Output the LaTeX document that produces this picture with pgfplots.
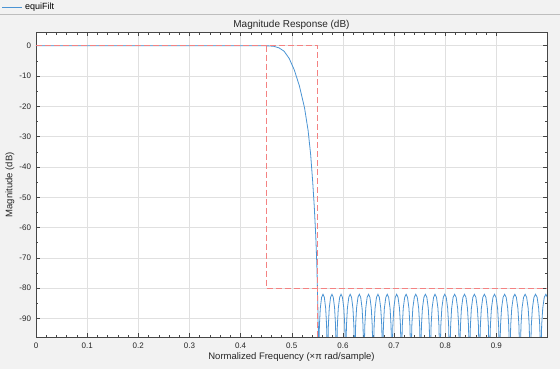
\documentclass[border=0pt]{standalone}
\usepackage{fontspec}
\setmainfont{Liberation Sans}
\usepackage{pgfplots}
\pgfplotsset{compat=1.18}
\definecolor{bg}{RGB}{242,242,242}
\definecolor{axcol}{RGB}{38,38,38}
\definecolor{boxcol}{RGB}{70,70,70}
\definecolor{gridc}{RGB}{224,224,224}
\definecolor{resp}{RGB}{75,148,212}
\definecolor{maskc}{RGB}{244,130,130}
\definecolor{sep}{RGB}{190,190,190}
\begin{document}
\begin{tikzpicture}
\fill[bg] (-36pt,-32pt) rectangle (524pt,337pt);
\draw[sep, line width=0.8pt] (-36pt,322.3pt) -- (524pt,322.3pt);
\draw[resp, line width=0.8pt] (-34pt,329.7pt) -- (-14pt,329.7pt);
\node[anchor=west, inner sep=0pt, font=\fontsize{9}{10}\selectfont, text=black] at (-11pt,329.7pt) {equiFilt};
\begin{axis}[
  at={(0pt,0pt)}, anchor=south west,
  scale only axis, width=511pt, height=304.3pt,
  xmin=0, xmax=0.999, ymin=-96.1, ymax=4.3,
  axis background/.style={fill=white},
  xtick={0,0.1,0.2,0.3,0.4,0.5,0.6,0.7,0.8,0.9},
  xticklabels={0,0.1,0.2,0.3,0.4,0.5,0.6,0.7,0.8,0.9},
  ytick={-90,-80,-70,-60,-50,-40,-30,-20,-10,0},
  yticklabels={-90,-80,-70,-60,-50,-40,-30,-20,-10,0},
  minor x tick num=4, minor y tick num=1,
  grid=major, major grid style={gridc, line width=0.5pt},
  axis line style={boxcol, line width=0.8pt},
  tick style={boxcol, line width=0.5pt},
  major tick length=3.5pt, minor tick length=2pt,
  tick label style={font=\fontsize{8}{9}\selectfont, text=axcol},
  xticklabel style={yshift=-2.5pt},
  yticklabel style={xshift=-1.5pt},
  every axis title shift=0pt,
  title={Magnitude Response (dB)},
  title style={at={(0.5,1.0171)}, anchor=base, font=\fontsize{10}{12}\selectfont, text=axcol},
  xlabel={Normalized Frequency (×π rad/sample)},
  ylabel={Magnitude (dB)},
  xlabel style={at={(0.5,-0.0657)}, anchor=center, font=\fontsize{9.5}{11}\selectfont, text=axcol},
  ylabel style={at={(-0.0509,0.5)}, anchor=center, font=\fontsize{9.5}{11}\selectfont, text=axcol},
  clip=true,
]
\addplot[resp, line width=0.8pt] coordinates {
(0,0)(0.44,0)(0.455,-0.05)(0.465,-0.2)(0.475,-0.7)(0.485,-1.8)(0.495,-4.2)(0.505,-8)(0.515,-13.3)(0.525,-20.5)(0.532,-28)(0.537,-36)(0.541,-45)(0.544,-53)(0.547,-63)(0.549,-72)(0.5502,-80)(0.5510,-86)(0.5516,-92)(0.5519,-100)
(0.5530,-100)(0.5541,-92.2)(0.5558,-86.6)(0.5584,-83)(0.5611,-82)(0.5637,-83)(0.5663,-86.6)(0.5681,-92.2)(0.5691,-100)
(0.5705,-100)(0.5716,-92.2)(0.5733,-86.6)(0.5759,-83)(0.5786,-82)(0.5812,-83)(0.5838,-86.6)(0.5856,-92.2)(0.5866,-100)
(0.5881,-100)(0.5892,-92.2)(0.5910,-86.6)(0.5937,-83)(0.5964,-82)(0.5991,-83)(0.6018,-86.6)(0.6036,-92.2)(0.6047,-100)
(0.6059,-100)(0.6070,-92.2)(0.6088,-86.6)(0.6115,-83)(0.6142,-82)(0.6169,-83)(0.6196,-86.6)(0.6214,-92.2)(0.6225,-100)
(0.6238,-100)(0.6249,-92.2)(0.6267,-86.6)(0.6294,-83)(0.6321,-82)(0.6348,-83)(0.6375,-86.6)(0.6393,-92.2)(0.6404,-100)
(0.6418,-100)(0.6429,-92.2)(0.6447,-86.6)(0.6474,-83)(0.6501,-82)(0.6528,-83)(0.6555,-86.6)(0.6573,-92.2)(0.6584,-100)
(0.6599,-100)(0.6611,-92.2)(0.6629,-86.6)(0.6657,-83)(0.6685,-82)(0.6712,-83)(0.6740,-86.6)(0.6759,-92.2)(0.6770,-100)
(0.6781,-100)(0.6793,-92.2)(0.6811,-86.6)(0.6839,-83)(0.6867,-82)(0.6894,-83)(0.6922,-86.6)(0.6941,-92.2)(0.6952,-100)
(0.6965,-100)(0.6977,-92.2)(0.6995,-86.6)(0.7023,-83)(0.7051,-82)(0.7078,-83)(0.7106,-86.6)(0.7125,-92.2)(0.7136,-100)
(0.7150,-100)(0.7162,-92.2)(0.7180,-86.6)(0.7208,-83)(0.7236,-82)(0.7263,-83)(0.7291,-86.6)(0.7310,-92.2)(0.7321,-100)
(0.7337,-100)(0.7348,-92.2)(0.7367,-86.6)(0.7396,-83)(0.7424,-82)(0.7453,-83)(0.7481,-86.6)(0.7500,-92.2)(0.7511,-100)
(0.7525,-100)(0.7536,-92.2)(0.7555,-86.6)(0.7584,-83)(0.7612,-82)(0.7641,-83)(0.7669,-86.6)(0.7688,-92.2)(0.7699,-100)
(0.7714,-100)(0.7725,-92.2)(0.7744,-86.6)(0.7773,-83)(0.7801,-82)(0.7830,-83)(0.7858,-86.6)(0.7877,-92.2)(0.7888,-100)
(0.7904,-100)(0.7915,-92.2)(0.7934,-86.6)(0.7963,-83)(0.7991,-82)(0.8020,-83)(0.8048,-86.6)(0.8067,-92.2)(0.8078,-100)
(0.8095,-100)(0.8107,-92.2)(0.8126,-86.6)(0.8155,-83)(0.8185,-82)(0.8214,-83)(0.8243,-86.6)(0.8263,-92.2)(0.8274,-100)
(0.8287,-100)(0.8299,-92.2)(0.8318,-86.6)(0.8347,-83)(0.8377,-82)(0.8406,-83)(0.8435,-86.6)(0.8455,-92.2)(0.8466,-100)
(0.8481,-100)(0.8493,-92.2)(0.8512,-86.6)(0.8541,-83)(0.8571,-82)(0.8600,-83)(0.8629,-86.6)(0.8649,-92.2)(0.8660,-100)
(0.8676,-100)(0.8688,-92.2)(0.8707,-86.6)(0.8736,-83)(0.8766,-82)(0.8795,-83)(0.8824,-86.6)(0.8844,-92.2)(0.8855,-100)
(0.8872,-100)(0.8884,-92.2)(0.8904,-86.6)(0.8934,-83)(0.8964,-82)(0.8994,-83)(0.9024,-86.6)(0.9044,-92.2)(0.9056,-100)
(0.9070,-100)(0.9082,-92.2)(0.9102,-86.6)(0.9132,-83)(0.9162,-82)(0.9192,-83)(0.9222,-86.6)(0.9242,-92.2)(0.9254,-100)
(0.9269,-100)(0.9281,-92.2)(0.9301,-86.6)(0.9331,-83)(0.9361,-82)(0.9391,-83)(0.9421,-86.6)(0.9441,-92.2)(0.9453,-100)
(0.9470,-100)(0.9482,-92.2)(0.9502,-86.6)(0.9532,-83)(0.9562,-82)(0.9592,-83)(0.9622,-86.6)(0.9642,-92.2)(0.9654,-100)
(0.9672,-100)(0.9684,-92.2)(0.9705,-86.6)(0.9735,-83)(0.9766,-82)(0.9797,-83)(0.9827,-86.6)(0.9848,-92.2)(0.9860,-100)
(0.9874,-100)(0.9886,-92.2)(0.9907,-86.6)(0.9937,-83)(0.9968,-82)(0.9999,-83)(1.0029,-86.6)(1.0050,-92.2)(1.0062,-100)
};
\addplot[maskc, line width=1pt, dash pattern=on 6pt off 3pt] coordinates {(0,0)(0.55,0)(0.55,-100)};
\addplot[maskc, line width=1pt, dash pattern=on 6pt off 3pt] coordinates {(0.45,0)(0.45,-80)(1.0,-80)};
\end{axis}
\pgfresetboundingbox
\useasboundingbox (-36pt,-32pt) rectangle (524pt,337pt);
\end{tikzpicture}
\end{document}
